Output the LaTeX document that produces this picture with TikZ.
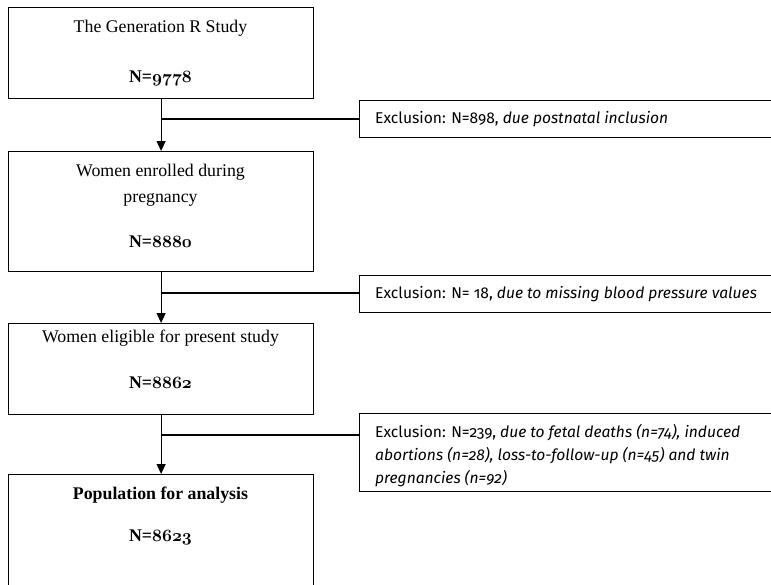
\documentclass[tikz,border=0pt]{standalone}
\usepackage{fontspec}
\usetikzlibrary{arrows.meta}
\setmainfont{Liberation Serif}
\newfontfamily\exfont{Fira Sans}[Numbers=OldStyle]
\newcommand\osnum[1]{{\fontsize{18.6}{21}\usefont{OML}{cmm}{b}{it}#1}}
\begin{document}
\begin{tikzpicture}[x=1pt,y=-1pt,
  box/.style={draw, line width=1.2pt, minimum width=305pt, inner sep=0pt, anchor=north west},
  exbox/.style={draw, line width=1.2pt, minimum width=420pt, inner sep=0pt, anchor=north west},
  maintxt/.style={anchor=base, inner sep=0pt, font=\fontsize{17.8}{21}\selectfont},
  extxt/.style={anchor=base west, inner sep=0pt, font=\exfont\fontsize{15.6}{18}\selectfont},
  conn/.style={line width=1.2pt},
  arr/.style={line width=1.2pt, -{Triangle[length=10pt,width=9pt]}}]
\useasboundingbox (0,0) rectangle (771,584);
\clip (0,0) rectangle (771,584);
% main boxes
\node[box, minimum height=91pt]  (b1) at (8,7) {};
\node[box, minimum height=120pt] (b2) at (8,151) {};
\node[box, minimum height=91pt]  (b3) at (8,323) {};
\node[box, minimum height=130pt] (b4) at (8,474) {};
% exclusion boxes
\node[exbox, minimum height=37pt] (e1) at (359,100) {};
\node[exbox, minimum height=37pt] (e2) at (359,275) {};
\node[exbox, minimum height=78pt] (e3) at (359,413) {};
% main texts
\node[maintxt] (t1a) at (160.5,32) {The Generation R Study};
\node[maintxt] (t1b) at (160.5,82) {\bfseries N=\osnum{9778}};
\node[maintxt] (t2a) at (160.5,176) {Women enrolled during};
\node[maintxt] (t2b) at (160.5,202) {pregnancy};
\node[maintxt] (t2c) at (160.5,247) {\bfseries N=\osnum{8880}};
\node[maintxt] (t3a) at (160.5,342) {Women eligible for present study};
\node[maintxt] (t3b) at (160.5,388) {\bfseries N=\osnum{8862}};
\node[maintxt] (t4a) at (160.5,499) {\bfseries Population for analysis};
\node[maintxt] (t4b) at (160.5,541) {\bfseries N=\osnum{8623}};
% exclusion texts
\node[extxt] (x1) at (375,123) {Exclusion: N=898, \textit{due postnatal inclusion}};
\node[extxt] (x2) at (375,298) {Exclusion: N= 18, \textit{due to missing blood pressure values}};
\node[extxt] (x3a) at (375,437) {Exclusion: N=239, \textit{due to fetal deaths (n=74), induced}};
\node[extxt] (x3b) at (375,460) {\textit{abortions (n=28), loss-to-follow-up (n=45) and twin}};
\node[extxt] (x3c) at (375,483) {\textit{pregnancies (n=92)}};
% connectors
\draw[arr] (b1.south) -- (b2.north);
\draw[arr] (b2.south) -- (b3.north);
\draw[arr] (b3.south) -- (b4.north);
\coordinate (j1) at (160.5,119);
\coordinate (j2) at (160.5,293);
\coordinate (j3) at (160.5,435);
\draw[conn] (j1) -- (j1 -| e1.west);
\draw[conn] (j2) -- (j2 -| e2.west);
\draw[conn] (j3) -- (j3 -| e3.west);
\end{tikzpicture}
\end{document}
